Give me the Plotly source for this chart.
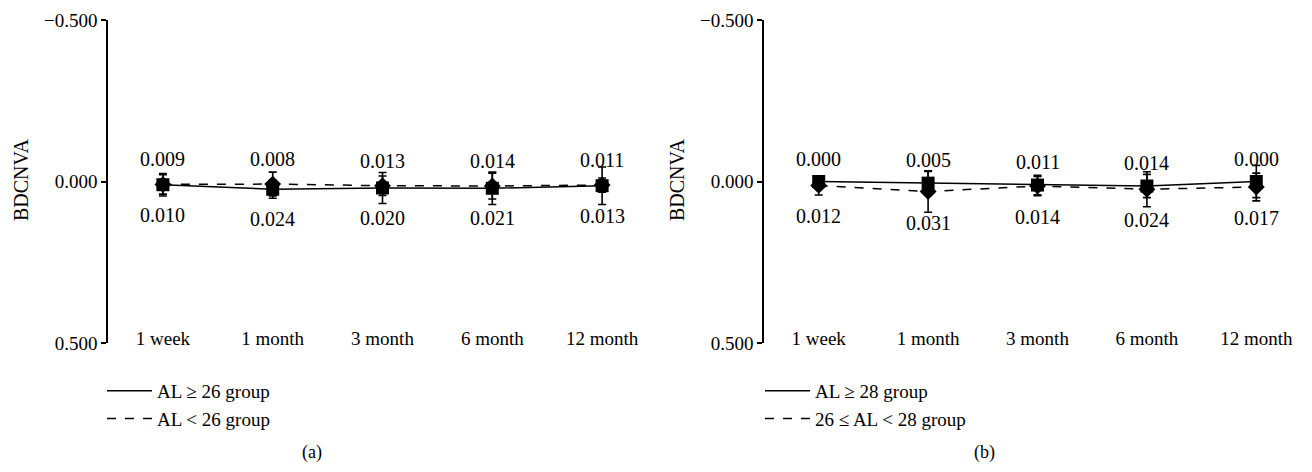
import plotly.graph_objects as go

# Follow-up time points
categories = ["1 week", "1 month", "3 month", "6 month", "12 month"]

# Panel (a): AL >= 26 vs AL < 26
a_long_name = "AL ≥ 26 group"
a_long_vals = [0.010, 0.024, 0.020, 0.021, 0.013]
a_long_err = [0.035, 0.028, 0.048, 0.050, 0.058]
a_short_name = "AL < 26 group"
a_short_vals = [0.009, 0.008, 0.013, 0.014, 0.011]
a_short_err = [0.030, 0.037, 0.030, 0.040, 0.022]

# Panel (b): AL >= 28 vs 26 <= AL < 28
b_long_name = "AL ≥ 28 group"
b_long_vals = [0.000, 0.005, 0.011, 0.014, 0.000]
b_long_err = [0.012, 0.036, 0.030, 0.036, 0.050]
b_mid_name = "26 ≤ AL < 28 group"
b_mid_vals = [0.012, 0.031, 0.014, 0.024, 0.017]
b_mid_err = [0.030, 0.064, 0.030, 0.054, 0.043]

y_ticks = [-0.5, 0.0, 0.5]
y_ticktext = ["−0.500", "0.000", "0.500"]

FONT = "Liberation Serif"
FS = 19
W, H = 1312, 472


def px_x(p):
    return p / W


def px_y(p):
    return 1 - p / H


fig = go.Figure()


def add_series(xa, ya, vals, err, dash, symbol, name, legend, rank):
    # data trace (no legend entry)
    fig.add_trace(go.Scatter(
        x=categories, y=vals, xaxis=xa, yaxis=ya,
        mode="lines+markers",
        line=dict(color="black", width=1.5, dash=dash),
        marker=dict(symbol=symbol, size=13, color="black"),
        error_y=dict(type="data", array=err, visible=True,
                     color="black", thickness=1.6, width=4),
        showlegend=False, hoverinfo="skip",
    ))
    # legend-only entry showing just the line style
    fig.add_trace(go.Scatter(
        x=[None], y=[None], xaxis=xa, yaxis=ya, mode="lines",
        line=dict(color="black", width=1.5, dash=dash),
        name=name, legend=legend, legendrank=rank, showlegend=True,
    ))


def add_labels(xa, ya, vals, shift):
    for c, v in zip(categories, vals):
        fig.add_annotation(
            x=c, y=v, xref=xa, yref=ya, text=f"{v:.3f}",
            showarrow=False, yshift=shift, xanchor="center", yanchor="middle",
            font=dict(family=FONT, size=20, color="black"),
        )


# Panel (a): dashed series drawn first so squares sit on top
add_series("x", "y", a_short_vals, a_short_err, "dash", "diamond", a_short_name, "legend", 2)
add_series("x", "y", a_long_vals, a_long_err, "solid", "square", a_long_name, "legend", 1)
add_labels("x", "y", a_short_vals, 25)
add_labels("x", "y", a_long_vals, -30)

# Panel (b)
add_series("x2", "y2", b_mid_vals, b_mid_err, "dash", "diamond", b_mid_name, "legend2", 2)
add_series("x2", "y2", b_long_vals, b_long_err, "solid", "square", b_long_name, "legend2", 1)
add_labels("x2", "y2", b_long_vals, 23)
add_labels("x2", "y2", b_mid_vals, -31)

y_dom = [px_y(343), px_y(20)]
xaxis_common = dict(
    type="category", range=[-0.5, 4.5], showline=False, showgrid=False,
    zeroline=False, ticks="", automargin=False,
    tickfont=dict(family=FONT, size=FS, color="black"),
    ticklabelstandoff=-18,
)
yaxis_common = dict(
    range=[0.5, -0.5], tickvals=y_ticks, ticktext=y_ticktext,
    showline=True, linecolor="black", linewidth=1.5, ticks="outside",
    ticklen=5, tickwidth=1.5, tickcolor="black", showgrid=False, zeroline=False,
    automargin=False, tickfont=dict(family=FONT, size=FS, color="black"),
)

legend_common = dict(
    xanchor="left", yanchor="top", bgcolor="rgba(0,0,0,0)", itemwidth=45,
    tracegroupgap=0, font=dict(family=FONT, size=FS, color="black"),
)

fig.update_layout(
    width=W, height=H,
    margin=dict(l=0, r=0, t=0, b=0, autoexpand=False),
    paper_bgcolor="white", plot_bgcolor="white",
    font=dict(family=FONT, size=FS, color="black"),
    xaxis=dict(domain=[px_x(108), px_x(657)], anchor="y", **xaxis_common),
    yaxis=dict(domain=y_dom, anchor="x", **yaxis_common),
    xaxis2=dict(domain=[px_x(764), px_x(1311)], anchor="y2", **xaxis_common),
    yaxis2=dict(domain=y_dom, anchor="x2", **yaxis_common),
    legend=dict(x=px_x(102), y=px_y(372), **legend_common),
    legend2=dict(x=px_x(760), y=px_y(372), **legend_common),
    showlegend=True,
)

# Axis titles and panel captions
for xp in (21, 677):
    fig.add_annotation(x=px_x(xp), y=px_y(180), xref="paper", yref="paper",
                       text="BDCNVA", textangle=-90, showarrow=False,
                       xanchor="center", yanchor="middle",
                       font=dict(family=FONT, size=20, color="black"))
for xp, t in ((312, "(a)"), (984, "(b)")):
    fig.add_annotation(x=px_x(xp), y=px_y(452), xref="paper", yref="paper",
                       text=t, showarrow=False, xanchor="center", yanchor="middle",
                       font=dict(family=FONT, size=18, color="black"))

fig.write_html("out.html")
